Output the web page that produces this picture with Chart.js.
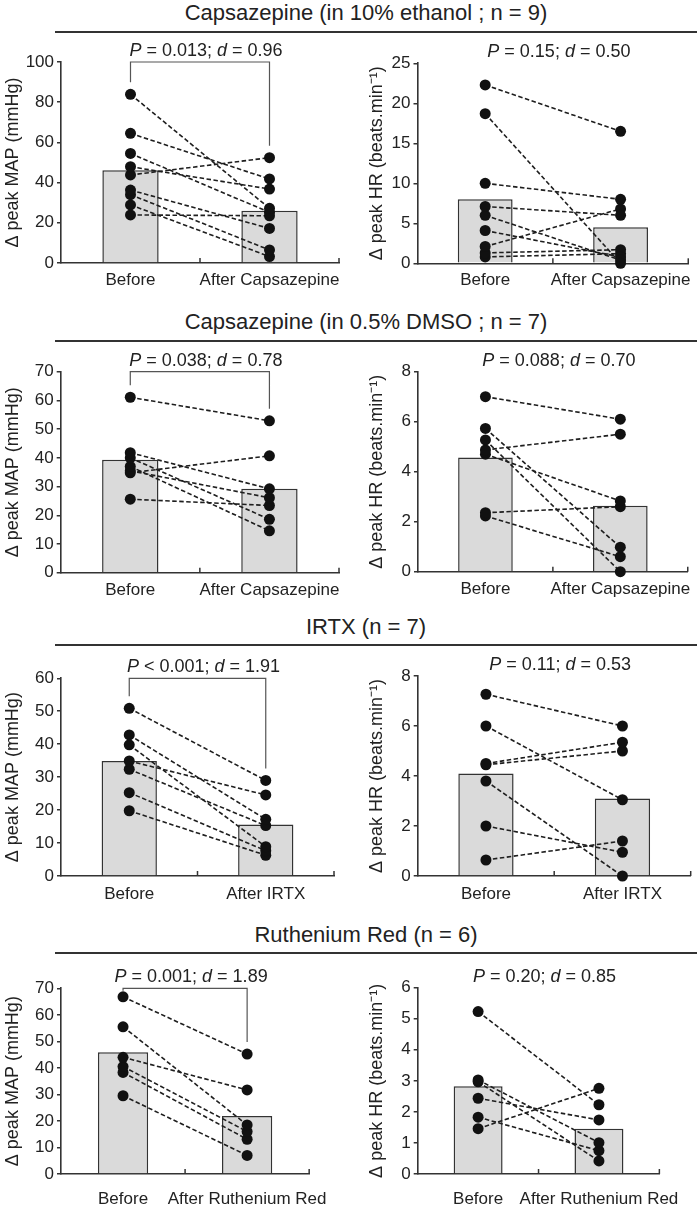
<!DOCTYPE html>
<html>
<head>
<meta charset="utf-8">
<script src="https://cdn.jsdelivr.net/npm/chart.js@4.4.1/dist/chart.umd.min.js"></script>
<style>
  body { margin: 0; background: #fff; width: 700px; height: 1210px; position: relative; overflow: hidden;
         font-family: "Liberation Sans", Arial, sans-serif; color: #222; }
  .sec { position: absolute; left: 16px; width: 700px; text-align: center; font-size: 22px; line-height: 24px; white-space: nowrap; }
  .rule { position: absolute; left: 55px; width: 642px; height: 2px; background: #333; }
  canvas { position: absolute; }
</style>
</head>
<body>
<script>
// --- data ---
const sectionTitles = ['Capsazepine (in 10% ethanol ; n = 9)', 'Capsazepine (in 0.5% DMSO ; n = 7)', 'IRTX (n = 7)', 'Ruthenium Red (n = 6)'];
const mapTitle = 'Δ peak MAP (mmHg)';
const hrTitle = 'Δ peak HR (beats.min⁻¹)';

const capEthCats = ['Before', 'After Capsazepine'];
const capEthMapBefore = [83.9, 64.5, 54.5, 47.9, 43.8, 36.3, 34.0, 28.9, 23.9];
const capEthMapAfter = [27.2, 41.8, 25.2, 36.8, 52.4, 17.2, 6.5, 3.2, 23.5];
const capEthMapMean = [46.2, 26.0];
const capEthHrBefore = [22.3, 18.7, 10.0, 7.1, 6.0, 4.1, 2.1, 1.3, 0.8];
const capEthHrAfter = [16.5, 0.0, 8.0, 6.0, 0.4, 0.8, 6.8, 1.7, 1.2];
const capEthHrMean = [8.0, 4.5];

const capDmsoCats = ['Before', 'After Capsazepine'];
const capDmsoMapBefore = [61.1, 41.8, 40.0, 37.0, 35.5, 34.8, 25.6];
const capDmsoMapAfter = [52.9, 29.2, 18.6, 14.6, 26.1, 40.7, 23.4];
const capDmsoMapMean = [39.3, 29.2];
const capDmsoHrBefore = [7.0, 5.73, 5.27, 4.87, 4.7, 2.36, 2.23];
const capDmsoHrAfter = [6.1, 0.98, 0.0, 5.5, 2.83, 2.6, 0.6];
const capDmsoHrMean = [4.57, 2.64];

const irtxCats = ['Before', 'After IRTX'];
const irtxMapBefore = [50.9, 42.8, 39.8, 34.9, 32.4, 25.3, 19.8];
const irtxMapAfter = [29.0, 17.2, 8.9, 24.6, 15.3, 7.7, 6.3];
const irtxMapMean = [34.9, 15.6];
const irtxHrBefore = [7.27, 6.0, 4.5, 4.45, 3.8, 2.0, 0.64];
const irtxHrAfter = [6.0, 3.05, 5.35, 5.0, 0.0, 0.95, 1.4];
const irtxHrMean = [4.1, 3.1];

const rrCats = ['Before', 'After Ruthenium Red'];
const rrMapBefore = [66.8, 55.5, 44.0, 40.5, 38.3, 29.5];
const rrMapAfter = [45.2, 18.5, 31.7, 16.0, 13.1, 7.0];
const rrMapMean = [45.9, 21.9];
const rrHrBefore = [5.23, 3.03, 2.97, 2.44, 1.83, 1.46];
const rrHrAfter = [2.23, 1.01, 0.42, 1.74, 0.75, 2.76];
const rrHrMean = [2.83, 1.46];

const yMaxes = [100, 25, 70, 8, 60, 8, 70, 6];
const ySteps = [20, 5, 10, 2, 10, 2, 10, 1];
const pLabels = ['= 0.013', '= 0.15', '= 0.038', '= 0.088', '< 0.001', '= 0.11', '= 0.001', '= 0.20'];
const dLabels = ['0.96', '0.50', '0.78', '0.70', '1.91', '0.53', '1.89', '0.85'];

// --- layout (page pixels) ---
const titleTops = [1, 310, 615, 923];
const ruleTops = [31, 340, 644, 952];
// canvas box [left, top, width, height], plot area [left, top, right, bottom]
const layout = [
  { box: [0, 35, 350, 270],   plot: [61, 62, 339, 263],       lab: 7 },
  { box: [350, 35, 350, 270], plot: [417.5, 63.3, 690, 263.3], lab: 7 },
  { box: [0, 344, 350, 262],  plot: [60.7, 371.7, 339, 572.7], lab: 7 },
  { box: [350, 344, 350, 262], plot: [418, 371.7, 689, 571.7], lab: 7 },
  { box: [0, 648, 350, 257],  plot: [61, 678.3, 334, 876],     lab: 8 },
  { box: [350, 648, 350, 257], plot: [417.7, 676, 690.7, 876], lab: 8 },
  { box: [0, 956, 350, 254],  plot: [61, 988.3, 316, 1174],    lab: 15 },
  { box: [350, 956, 350, 254], plot: [417.7, 987.7, 673.3, 1174], lab: 15 }
];

const panels = [
  [capEthCats, capEthMapBefore, capEthMapAfter, capEthMapMean, mapTitle, true],
  [capEthCats, capEthHrBefore, capEthHrAfter, capEthHrMean, hrTitle, false],
  [capDmsoCats, capDmsoMapBefore, capDmsoMapAfter, capDmsoMapMean, mapTitle, true],
  [capDmsoCats, capDmsoHrBefore, capDmsoHrAfter, capDmsoHrMean, hrTitle, false],
  [irtxCats, irtxMapBefore, irtxMapAfter, irtxMapMean, mapTitle, true],
  [irtxCats, irtxHrBefore, irtxHrAfter, irtxHrMean, hrTitle, false],
  [rrCats, rrMapBefore, rrMapAfter, rrMapMean, mapTitle, true],
  [rrCats, rrHrBefore, rrHrAfter, rrHrMean, hrTitle, false]
];

const FONT = '"Liberation Sans", Arial, sans-serif';
const INK = '#222';

sectionTitles.forEach((t, i) => {
  const d = document.createElement('div');
  d.className = 'sec';
  d.style.top = titleTops[i] + 'px';
  d.textContent = t;
  document.body.appendChild(d);
  const r = document.createElement('div');
  r.className = 'rule';
  r.style.top = ruleTops[i] + 'px';
  document.body.appendChild(r);
});

// small upward ticks at category boundaries + P/d annotation with bracket
const annoPlugin = {
  id: 'anno',
  afterDraw(chart, args, o) {
    const { ctx, chartArea, scales: { x, y } } = chart;
    ctx.save();
    ctx.strokeStyle = '#333';
    ctx.lineWidth = 1.5;
    const n = chart.data.labels.length;
    for (let i = 1; i <= n; i++) {
      const px = x.left + i * (x.right - x.left) / n;
      ctx.beginPath();
      ctx.moveTo(px, chartArea.bottom);
      ctx.lineTo(px, chartArea.bottom - 5);
      ctx.stroke();
    }
    const x0 = x.getPixelForValue(0), x1 = x.getPixelForValue(1);
    const top = chartArea.top;
    if (o.bracket) {
      const yl = Math.max(top + 2.5, y.getPixelForValue(Math.max(...o.before)) - 12);
      const yr = Math.max(top + 2.5, y.getPixelForValue(Math.max(...o.after)) - 12);
      ctx.strokeStyle = '#555';
      ctx.lineWidth = 1.2;
      ctx.beginPath();
      ctx.moveTo(x0, yl);
      ctx.lineTo(x0, top);
      ctx.lineTo(x1, top);
      ctx.lineTo(x1, yr);
      ctx.stroke();
    }
    const parts = [['P', true], [' ' + o.p + '; ', false], ['d', true], [' = ' + o.d, false]];
    const fontOf = it => (it ? 'italic ' : '') + '18px ' + FONT;
    let w = 0;
    parts.forEach(([t, it]) => { ctx.font = fontOf(it); w += ctx.measureText(t).width; });
    let cx = (x0 + x1) / 2 + 6 - w / 2;
    ctx.fillStyle = INK;
    ctx.textBaseline = 'middle';
    ctx.textAlign = 'left';
    parts.forEach(([t, it]) => {
      ctx.font = fontOf(it);
      ctx.fillText(t, cx, top - 11);
      cx += ctx.measureText(t).width;
    });
    ctx.restore();
  }
};

panels.forEach((p, i) => {
  const [cats, before, after, means, yTitle, bracket] = p;
  const { box, plot, lab } = layout[i];
  const [cxl, cyt, cw, ch] = box;
  const [pl, pt, pr, pb] = plot;
  const cv = document.createElement('canvas');
  cv.width = cw; cv.height = ch;
  cv.style.left = cxl + 'px'; cv.style.top = cyt + 'px';
  cv.style.width = cw + 'px'; cv.style.height = ch + 'px';
  document.body.appendChild(cv);

  const pairs = before.map((b, k) => ({
    type: 'line',
    data: [b, after[k]],
    borderColor: '#1e1e1e',
    borderWidth: 1.6,
    borderDash: [4.5, 2.5],
    pointRadius: 5.5,
    pointHoverRadius: 5.5,
    pointBackgroundColor: '#111',
    pointBorderWidth: 0,
    fill: false,
    clip: false,
    order: 1
  }));

  new Chart(cv, {
    type: 'bar',
    data: {
      labels: cats,
      datasets: [{
        type: 'bar',
        data: means,
        backgroundColor: '#dadada',
        borderColor: '#333',
        borderWidth: 1.5,
        barPercentage: 0.405,
        categoryPercentage: 1,
        order: 2
      }, ...pairs]
    },
    options: {
      responsive: false,
      animation: false,
      devicePixelRatio: 1,
      events: [],
      layout: { padding: { top: pt - cyt, right: cxl + cw - pr, bottom: 0, left: 0 } },
      plugins: {
        legend: { display: false },
        tooltip: { enabled: false },
        anno: { bracket, before, after, p: pLabels[i], d: dLabels[i] }
      },
      scales: {
        x: {
          grid: { display: false, drawTicks: false, tickLength: 0 },
          border: { display: true, color: '#333', width: 1.6 },
          ticks: { color: INK, font: { family: FONT, size: 17 }, padding: lab, maxRotation: 0, autoSkip: false },
          afterFit: s => { s.height = cyt + ch - pb; }
        },
        y: {
          min: 0,
          max: yMaxes[i],
          grid: { drawOnChartArea: false, drawTicks: true, tickLength: 4, color: '#333', lineWidth: 1.5 },
          border: { display: true, color: '#333', width: 1.6 },
          ticks: { stepSize: ySteps[i], color: INK, font: { family: FONT, size: 17 }, padding: 3 },
          title: {
            display: true,
            text: yTitle,
            color: INK,
            font: { family: FONT, size: 18 },
            padding: { top: (i % 2 === 0 ? 13.5 : 377 - 350) - 10.8, bottom: 0 }
          },
          afterFit: s => { s.width = pl - cxl; }
        }
      }
    },
    plugins: [annoPlugin]
  });
});
</script>
</body>
</html>
